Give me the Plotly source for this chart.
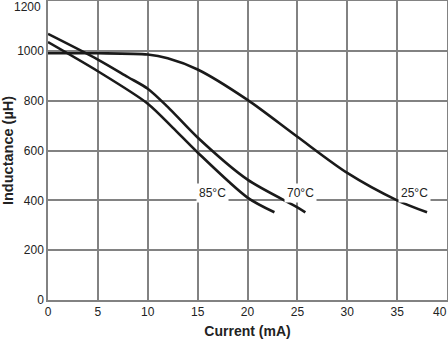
import plotly.graph_objects as go

# Inductance vs. DC current at three ambient temperatures
current_25 = [0, 5, 10, 12, 15, 20, 25, 30, 35, 38]
induct_25 = [990, 990, 985, 970, 925, 803, 655, 510, 400, 352]

current_70 = [0, 5, 8, 10, 12, 15, 20, 25, 25.8]
induct_70 = [1068, 965, 895, 848, 775, 652, 483, 372, 352]

current_85 = [0, 5, 10, 12.5, 15, 20, 22.7]
induct_85 = [1035, 918, 788, 692, 592, 411, 352]

labels = ["85°C", "70°C", "25°C"]
label_x = [16.5, 25.3, 36.7]
label_y = [428, 428, 428]

x_ticks = list(range(0, 41, 5))
y_ticks = list(range(0, 1201, 200))

FONT = "Liberation Sans, Arial, sans-serif"
TXT = "#222"

fig = go.Figure()
for xs, ys in [(current_25, induct_25), (current_70, induct_70), (current_85, induct_85)]:
    fig.add_trace(go.Scatter(
        x=xs, y=ys, mode="lines",
        line=dict(color="#1a1a1a", width=2.6, shape="spline", smoothing=0.8),
        showlegend=False, hoverinfo="skip",
    ))

for txt, lx, ly in zip(labels, label_x, label_y):
    fig.add_annotation(
        x=lx, y=ly, text=txt, showarrow=False,
        font=dict(family=FONT, size=12, color=TXT),
        bgcolor="white", borderpad=2,
    )

# the outermost tick labels sit at the page edge, so nudge them inward
x_text = [str(v) for v in x_ticks[:-1]] + [""]
y_text = [str(v) for v in y_ticks[:-1]] + [""]
fig.add_annotation(x=x_ticks[-1], y=0, xref="x", yref="paper", text=str(x_ticks[-1]),
                   showarrow=False, xanchor="center", yanchor="top", xshift=-7, yshift=-3,
                   font=dict(family=FONT, size=12, color=TXT))
fig.add_annotation(x=0, y=y_ticks[-1], xref="paper", yref="y", text=str(y_ticks[-1]),
                   showarrow=False, xanchor="right", yanchor="middle", xshift=-5, yshift=-6,
                   font=dict(family=FONT, size=12, color=TXT))

axis_common = dict(
    showgrid=True, gridcolor="#828282", gridwidth=1.5,
    showline=True, linecolor="#828282", linewidth=1.5, mirror=True,
    zeroline=False, ticks="", automargin=False,
    tickfont=dict(family=FONT, size=12, color=TXT),
)

fig.update_layout(
    width=448, height=339,
    margin=dict(l=48, r=1, t=1, b=39),
    paper_bgcolor="white", plot_bgcolor="white",
    xaxis=dict(
        range=[0, 40], tickvals=x_ticks, ticktext=x_text,
        title=dict(text="<b>Current (mA)</b>", standoff=8,
                   font=dict(family=FONT, size=14, color=TXT)),
        **axis_common,
    ),
    yaxis=dict(
        range=[0, 1200], tickvals=y_ticks, ticktext=y_text,
        title=dict(text="<b>Inductance (µH)</b>", standoff=4,
                   font=dict(family=FONT, size=14.5, color=TXT)),
        **axis_common,
    ),
)

fig.write_html("out.html")
